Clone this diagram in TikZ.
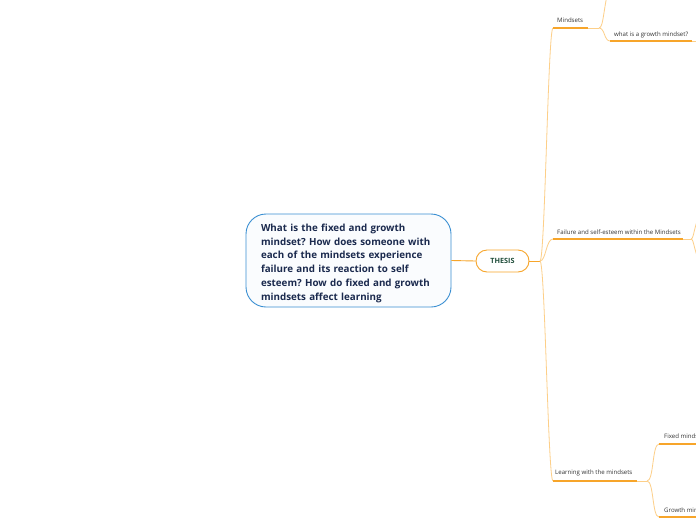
\documentclass[tikz,border=0pt]{standalone}
\usepackage{fontspec}
\setmainfont{Open Sans}
\frenchspacing
\definecolor{rootblue}{HTML}{3A8FD2}
\definecolor{rootfill}{HTML}{FAFCFE}
\definecolor{navy}{HTML}{1B2A4E}
\definecolor{thgreen}{HTML}{1F4D3A}
\definecolor{orng}{HTML}{F7A52A}
\definecolor{lightorng}{HTML}{FDCF88}
\definecolor{lbltext}{HTML}{333333}
\tikzset{
  rootbox/.style={draw=rootblue, line width=0.9pt, fill=rootfill, rounded corners=20pt,
    minimum width=205pt, minimum height=93pt, text width=178pt, align=left,
    font=\fontsize{9.8}{13.8}\selectfont\bfseries, text=navy, inner sep=0pt},
  thesisbox/.style={draw=orng, line width=0.9pt, fill=white, rounded corners=11pt,
    minimum width=53pt, minimum height=22pt, font=\fontsize{7.2}{8}\selectfont\bfseries,
    text=thgreen, inner sep=0pt},
  lbl/.style={font=\fontsize{6.1}{7}\selectfont, text=lbltext, inner sep=0pt, anchor=base west},
  uline/.style={draw=orng, line width=1.5pt},
  trunk/.style={draw=orng, line width=0.9pt},
  branch/.style={draw=lightorng, line width=0.8pt},
}
\begin{document}
\begin{tikzpicture}[x=1pt,y=-1pt]
\path[use as bounding box] (0,0) rectangle (696,520);
\clip (0,0) rectangle (696,520);
\fill[white] (0,0) rectangle (696,520);

% root and thesis
\node[rootbox] (root) at (348.5,260.5) {\rule{0pt}{13pt}\hspace*{1.5pt}What is the fixed and growth\\ \hspace*{1.5pt}mindset? How does someone with\\ \hspace*{1.5pt}each of the mindsets experience\\ \hspace*{1.5pt}failure and its reaction to self\\ \hspace*{1.5pt}esteem? How do fixed and growth\\ \hspace*{1.5pt}mindsets affect learning};
\node[thesisbox] (thesis) at (502.5,261) {THESIS};
\coordinate (hub) at (540,261);
\draw[trunk] (root.east) -- (thesis.west);
\draw[trunk] (thesis.east) -- (hub);

% Mindsets
\coordinate (ms1) at (553,28);
\coordinate (ms2) at (588,28);
\coordinate (mshub) at (599,28);
\node[lbl] (mindsets) at (557,22) {Mindsets};
\draw[branch] (hub) .. controls (545,261) and (548,28) .. (ms1);
\draw[uline] (ms1) -- (ms2);
\draw[branch] (ms2) -- (mshub);
\coordinate (msup) at (612,-25);
\draw[branch] (mshub) .. controls (604,28) and (603,5) .. (msup);
\coordinate (gr1) at (610,41);
\coordinate (gr2) at (692,41);
\coordinate (gr3) at (700,41);
\node[lbl] (growthq) at (614,36.5) {what is a growth mindset?};
\draw[branch] (mshub) .. controls (605,28) and (604,41) .. (gr1);
\draw[uline] (gr1) -- (gr2);
\draw[branch] (gr2) -- (gr3);

% Failure
\coordinate (fa1) at (553,239);
\coordinate (fa2) at (683,239);
\coordinate (fahub) at (691,239);
\node[lbl] (failure) at (557,234) {Failure and self-esteem within the Mindsets};
\draw[branch] (hub) .. controls (546,261) and (546,239) .. (fa1);
\draw[uline] (fa1) -- (fa2);
\draw[branch] (fa2) -- (fahub);
\coordinate (faup) at (700,215);
\coordinate (fadown) at (700,262);
\draw[branch] (fahub) .. controls (694,239) and (694,225) .. (faup);
\draw[branch] (fahub) .. controls (694,239) and (694,252) .. (fadown);

% Learning
\coordinate (le1) at (553,481);
\coordinate (le2) at (637,481);
\coordinate (lehub) at (647,481);
\node[lbl] (learning) at (555,474.5) {Learning with the mindsets};
\draw[branch] (hub) .. controls (545,261) and (548,481) .. (le1);
\draw[uline] (le1) -- (le2);
\draw[branch] (le2) -- (lehub);
\coordinate (fx1) at (659,444);
\coordinate (fx2) at (700,444);
\node[lbl] (fixed) at (664,438.5) {Fixed mindset};
\draw[branch] (lehub) .. controls (654,481) and (652,444) .. (fx1);
\draw[uline] (fx1) -- (fx2);
\coordinate (gw1) at (659,517);
\coordinate (gw2) at (700,517);
\node[lbl] (growth) at (664,512) {Growth mindset};
\draw[branch] (lehub) .. controls (654,481) and (652,517) .. (gw1);
\draw[uline] (gw1) -- (gw2);
\end{tikzpicture}
\end{document}
